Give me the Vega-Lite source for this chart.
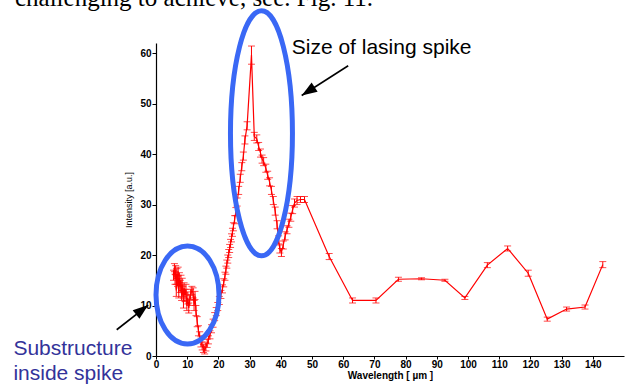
{
  "$schema": "https://vega.github.io/schema/vega-lite/v6.json",
  "width": 468,
  "height": 313,
  "autosize": {"type": "none"},
  "padding": {"left": 156, "top": 43, "right": 3, "bottom": 28},
  "background": "white",
  "config": {
    "view": {"stroke": null},
    "axis": {
      "grid": false,
      "domainColor": "black",
      "tickColor": "black",
      "labelColor": "black",
      "titleColor": "black",
      "labelFont": "Liberation Sans",
      "titleFont": "Liberation Sans",
      "labelFontWeight": "bold",
      "labelFontSize": 10,
      "tickSize": 4,
      "domainWidth": 1.2,
      "tickWidth": 1
    }
  },
  "datasets": {
    "spectrum": [
      {"x": 5.6, "y": 16.0, "err": 1.0},
      {"x": 5.9, "y": 17.5, "err": 0.8},
      {"x": 6.1, "y": 15.2, "err": 1.0},
      {"x": 6.3, "y": 17.0, "err": 0.9},
      {"x": 6.5, "y": 13.0, "err": 1.2},
      {"x": 6.7, "y": 16.3, "err": 1.0},
      {"x": 6.9, "y": 14.8, "err": 1.0},
      {"x": 7.1, "y": 16.8, "err": 0.8},
      {"x": 7.3, "y": 12.5, "err": 1.0},
      {"x": 7.5, "y": 15.5, "err": 1.0},
      {"x": 7.8, "y": 13.8, "err": 1.2},
      {"x": 8.0, "y": 15.0, "err": 1.0},
      {"x": 8.2, "y": 12.0, "err": 1.0},
      {"x": 8.4, "y": 14.2, "err": 1.2},
      {"x": 8.6, "y": 12.8, "err": 1.0},
      {"x": 8.8, "y": 10.5, "err": 1.0},
      {"x": 9.0, "y": 13.5, "err": 1.0},
      {"x": 9.3, "y": 12.0, "err": 1.2},
      {"x": 9.6, "y": 13.2, "err": 1.0},
      {"x": 9.9, "y": 10.0, "err": 1.0},
      {"x": 10.2, "y": 11.5, "err": 1.2},
      {"x": 10.5, "y": 9.5, "err": 1.0},
      {"x": 10.8, "y": 11.0, "err": 1.0},
      {"x": 11.1, "y": 12.2, "err": 1.0},
      {"x": 11.5, "y": 13.0, "err": 0.8},
      {"x": 11.9, "y": 12.5, "err": 1.0},
      {"x": 12.2, "y": 10.0, "err": 1.0},
      {"x": 12.5, "y": 12.0, "err": 0.8},
      {"x": 12.8, "y": 9.0, "err": 1.0},
      {"x": 13.2, "y": 6.8, "err": 1.0},
      {"x": 13.6, "y": 5.0, "err": 1.0},
      {"x": 14.0, "y": 3.8, "err": 1.0},
      {"x": 14.4, "y": 2.8, "err": 1.0},
      {"x": 14.8, "y": 2.0, "err": 0.8},
      {"x": 15.2, "y": 1.5, "err": 0.8},
      {"x": 15.6, "y": 1.2, "err": 0.8},
      {"x": 16.0, "y": 1.8, "err": 0.8},
      {"x": 16.4, "y": 2.5, "err": 0.8},
      {"x": 16.8, "y": 3.2, "err": 0.8},
      {"x": 17.3, "y": 4.2, "err": 0.8},
      {"x": 17.8, "y": 5.4, "err": 0.8},
      {"x": 18.3, "y": 6.5, "err": 0.8},
      {"x": 18.8, "y": 7.8, "err": 0.8},
      {"x": 19.3, "y": 8.8, "err": 0.8},
      {"x": 19.8, "y": 9.8, "err": 0.8},
      {"x": 20.3, "y": 11.0, "err": 0.8},
      {"x": 20.8, "y": 12.2, "err": 0.8},
      {"x": 21.3, "y": 13.3, "err": 0.8},
      {"x": 21.7, "y": 14.5, "err": 0.8},
      {"x": 22.1, "y": 15.8, "err": 0.8},
      {"x": 22.4, "y": 17.0, "err": 0.8},
      {"x": 22.7, "y": 18.2, "err": 0.8},
      {"x": 23.0, "y": 19.2, "err": 0.8},
      {"x": 23.3, "y": 20.3, "err": 0.8},
      {"x": 23.6, "y": 21.3, "err": 0.8},
      {"x": 23.9, "y": 22.3, "err": 0.8},
      {"x": 24.2, "y": 23.4, "err": 0.8},
      {"x": 24.5, "y": 24.5, "err": 0.8},
      {"x": 24.8, "y": 25.6, "err": 0.8},
      {"x": 25.2, "y": 27.0, "err": 0.8},
      {"x": 25.6, "y": 28.6, "err": 0.8},
      {"x": 26.0, "y": 30.5, "err": 0.8},
      {"x": 26.5, "y": 32.8, "err": 0.8},
      {"x": 27.0, "y": 35.2, "err": 0.8},
      {"x": 27.5, "y": 37.5, "err": 0.8},
      {"x": 28.0, "y": 39.6, "err": 0.8},
      {"x": 28.5, "y": 42.8, "err": 0.8},
      {"x": 29.2, "y": 45.6, "err": 0.8},
      {"x": 30.6, "y": 59.6, "err": 1.8},
      {"x": 31.5, "y": 43.5, "err": 0.8},
      {"x": 32.3, "y": 43.0, "err": 0.8},
      {"x": 32.9, "y": 41.5, "err": 0.8},
      {"x": 33.5, "y": 40.2, "err": 0.8},
      {"x": 34.0, "y": 39.0, "err": 0.8},
      {"x": 34.5, "y": 38.5, "err": 0.8},
      {"x": 35.2, "y": 37.2, "err": 0.8},
      {"x": 35.8, "y": 35.8, "err": 0.8},
      {"x": 36.4, "y": 34.5, "err": 0.8},
      {"x": 37.0, "y": 32.8, "err": 0.8},
      {"x": 37.6, "y": 30.8, "err": 0.8},
      {"x": 38.2, "y": 28.7, "err": 0.8},
      {"x": 38.8, "y": 26.0, "err": 0.8},
      {"x": 39.3, "y": 23.0, "err": 0.8},
      {"x": 39.7, "y": 21.2, "err": 0.8},
      {"x": 40.2, "y": 20.5, "err": 0.8},
      {"x": 40.8, "y": 22.0, "err": 0.8},
      {"x": 41.4, "y": 23.8, "err": 0.8},
      {"x": 42.0, "y": 25.0, "err": 0.8},
      {"x": 42.6, "y": 26.3, "err": 0.8},
      {"x": 43.2, "y": 27.5, "err": 0.8},
      {"x": 43.8, "y": 29.0, "err": 0.8},
      {"x": 44.4, "y": 30.3, "err": 0.8},
      {"x": 45.2, "y": 30.8, "err": 0.8},
      {"x": 46.3, "y": 31.0, "err": 0.6},
      {"x": 47.6, "y": 31.0, "err": 0.6},
      {"x": 55.5, "y": 19.7, "err": 0.6},
      {"x": 63.0, "y": 11.0, "err": 0.5},
      {"x": 70.5, "y": 11.0, "err": 0.5},
      {"x": 77.7, "y": 15.2, "err": 0.4},
      {"x": 85.1, "y": 15.3, "err": 0.2},
      {"x": 92.6, "y": 15.0, "err": 0.2},
      {"x": 99.0, "y": 11.5, "err": 0.3},
      {"x": 106.2, "y": 18.0, "err": 0.5},
      {"x": 112.7, "y": 21.3, "err": 0.5},
      {"x": 119.3, "y": 16.4, "err": 0.6},
      {"x": 125.4, "y": 7.3, "err": 0.4},
      {"x": 131.6, "y": 9.3, "err": 0.4},
      {"x": 137.5, "y": 9.7, "err": 0.4},
      {"x": 143.2, "y": 18.1, "err": 0.6}
    ]
  },
  "encoding": {
    "x": {
      "field": "x",
      "type": "quantitative",
      "scale": {"domain": [0, 150], "nice": false, "zero": false},
      "axis": {
        "values": [0, 10, 20, 30, 40, 50, 60, 70, 80, 90, 100, 110, 120, 130, 140],
        "title": "Wavelength [ µm ]",
        "titleFontSize": 10,
        "titleFontWeight": "bold",
        "titlePadding": 1,
        "labelPadding": 0,
        "tickSize": 3,
        "labelFlush": false,
        "labelOverlap": false
      }
    },
    "y": {
      "field": "y",
      "type": "quantitative",
      "scale": {"domain": [0, 62], "nice": false, "zero": false},
      "axis": {
        "values": [0, 10, 20, 30, 40, 50, 60],
        "title": "Intensity [a.u.]",
        "titleFontSize": 9,
        "titleFontWeight": "normal",
        "titlePadding": 6,
        "labelPadding": 1,
        "labelFlush": false,
        "labelOverlap": false
      }
    }
  },
  "layer": [
    {
      "data": {"name": "spectrum"},
      "mark": {"type": "line", "color": "#ff0000", "strokeWidth": 1.2}
    },
    {
      "data": {"name": "spectrum"},
      "mark": {"type": "errorbar", "color": "#ff0000", "thickness": 1, "ticks": {"size": 7, "thickness": 1, "color": "#ff0000"}},
      "encoding": {"yError": {"field": "err"}}
    },
    {
      "data": {"values": [{"x": 33.8, "y": 44.1}]},
      "mark": {
        "type": "point",
        "shape": "M 0 -1 A 0.253 1 0 1 1 0 1 A 0.253 1 0 1 1 0 -1 Z",
        "size": 60025,
        "filled": false,
        "stroke": "#3a68f5",
        "strokeWidth": 5,
        "opacity": 1
      }
    },
    {
      "data": {"values": [{"x": 10.1, "y": 12.1}]},
      "mark": {
        "type": "point",
        "shape": "M 0 -1 A 0.643 1 0 1 1 0 1 A 0.643 1 0 1 1 0 -1 Z",
        "size": 9604,
        "filled": false,
        "stroke": "#3a68f5",
        "strokeWidth": 5,
        "opacity": 1
      }
    },
    {
      "data": {"values": [
        {"x": 61.6, "y": 57.5, "x2": 46.7, "y2": 51.6},
        {"x": -12.6, "y": 5.2, "x2": -2.5, "y2": 10.1}
      ]},
      "mark": {"type": "rule", "color": "black", "strokeWidth": 1.6},
      "encoding": {"x2": {"field": "x2"}, "y2": {"field": "y2"}}
    },
    {
      "data": {"values": [{"x": 46.7, "y": 51.6}]},
      "mark": {"type": "point", "shape": "M 0 0 L -0.5 1.4 L 0.5 1.4 Z", "size": 484, "filled": true, "color": "black", "opacity": 1, "angle": 237}
    },
    {
      "data": {"values": [{"x": -2.5, "y": 10.1}]},
      "mark": {"type": "point", "shape": "M 0 0 L -0.5 1.4 L 0.5 1.4 Z", "size": 484, "filled": true, "color": "black", "opacity": 1, "angle": 52}
    },
    {
      "data": {"values": [{"x": 43.5, "y": 59.8, "label": "Size of lasing spike"}]},
      "mark": {"type": "text", "align": "left", "baseline": "alphabetic", "font": "Liberation Sans", "fontSize": 21, "color": "black"},
      "encoding": {"text": {"field": "label"}}
    },
    {
      "data": {"values": [
        {"x": -45.7, "y": 0.2, "label": "Substructure"},
        {"x": -45.7, "y": -4.8, "label": "inside spike"}
      ]},
      "mark": {"type": "text", "align": "left", "baseline": "alphabetic", "font": "Liberation Sans", "fontSize": 21, "color": "#33339a"},
      "encoding": {"text": {"field": "label"}}
    },
    {
      "data": {"values": [{"x": -45.2, "y": 69.3, "label": "challenging to achieve, see. Fig. 11."}]},
      "mark": {"type": "text", "align": "left", "baseline": "alphabetic", "font": "Liberation Serif", "fontSize": 25, "color": "black"},
      "encoding": {"text": {"field": "label"}}
    }
  ]
}
